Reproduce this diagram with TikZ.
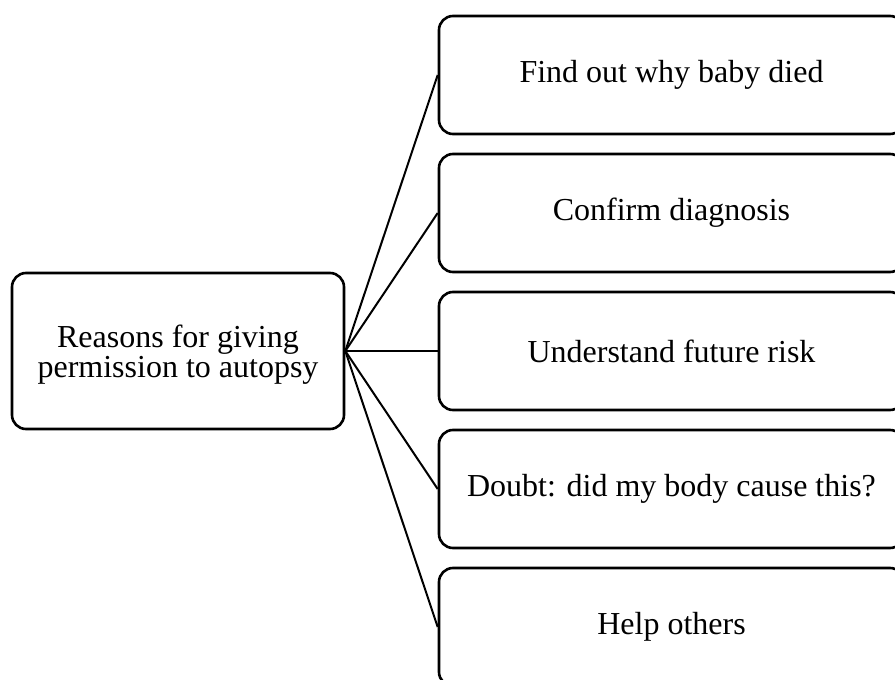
\documentclass[tikz,border=0pt]{standalone}
\usepackage{fontspec}
\setmainfont{Liberation Serif}
\begin{document}
\begin{tikzpicture}[x=1pt,y=-1pt,
  box/.style={draw, line width=2.6pt, rounded corners=14pt, inner sep=0pt, align=center,
    font=\fontsize{32}{30}\selectfont},
  leaf/.style={box, minimum width=465pt, minimum height=118pt},
  lbl/.style={inner sep=0pt, align=center, font=\fontsize{32}{30}\selectfont},
  link/.style={line width=2pt}]
\useasboundingbox (0,0) rectangle (895,680);
\node[box, minimum width=332pt, minimum height=156pt] (root) at (178,351) {};
\node[lbl] (rootlabel) at (178,355) {Reasons for giving\\permission to autopsy};
\node[leaf] (r1) at (671.5,75) {Find out why baby died};
\node[leaf] (r2) at (671.5,213) {Confirm diagnosis};
\node[leaf] (r3) at (671.5,351) {Understand future risk};
\node[leaf] (r4) at (671.5,489) {Doubt: did my body cause this?};
\node[leaf] (r5) at (671.5,627) {Help others};
\foreach \n in {r1,r2,r3,r4,r5}
  \draw[link] (root.east) -- (\n.west);
\end{tikzpicture}
\end{document}
